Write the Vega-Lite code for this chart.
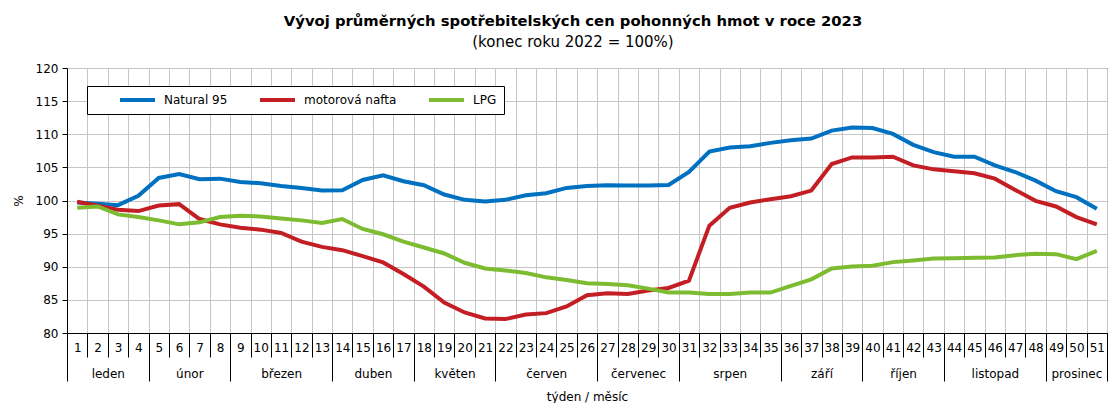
{
  "$schema": "https://vega.github.io/schema/vega-lite/v6.json",
  "autosize": "none",
  "width": 1040,
  "height": 265,
  "padding": {"left": 67, "top": 68, "right": 7, "bottom": 70},
  "background": "white",
  "title": {
    "text": "Vývoj průměrných spotřebitelských cen pohonných hmot v roce 2023",
    "subtitle": "(konec roku 2022 = 100%)",
    "anchor": "middle",
    "frame": "group",
    "font": "DejaVu Sans",
    "fontSize": 14.8,
    "fontWeight": "bold",
    "color": "black",
    "subtitleFont": "DejaVu Sans",
    "subtitleFontSize": 15,
    "subtitleColor": "black",
    "subtitlePadding": 6,
    "offset": 12,
    "dx": -14
  },
  "config": {
    "view": {"stroke": "black", "strokeWidth": 1},
    "axis": {"labelFont": "DejaVu Sans", "titleFont": "DejaVu Sans", "labelColor": "black", "titleColor": "black", "titleFontWeight": "normal", "labelFlush": false, "labelOverlap": false, "labelBound": false}
  },
  "data": {
    "values": [
      {"w": 1, "Natural 95": 99.7, "motorová nafta": 99.8, "LPG": 98.9},
      {"w": 2, "Natural 95": 99.5, "motorová nafta": 99.2, "LPG": 99.1},
      {"w": 3, "Natural 95": 99.3, "motorová nafta": 98.6, "LPG": 97.9},
      {"w": 4, "Natural 95": 100.7, "motorová nafta": 98.4, "LPG": 97.5},
      {"w": 5, "Natural 95": 103.4, "motorová nafta": 99.25, "LPG": 97.0},
      {"w": 6, "Natural 95": 104.0, "motorová nafta": 99.45, "LPG": 96.4},
      {"w": 7, "Natural 95": 103.2, "motorová nafta": 97.2, "LPG": 96.7},
      {"w": 8, "Natural 95": 103.3, "motorová nafta": 96.4, "LPG": 97.5},
      {"w": 9, "Natural 95": 102.8, "motorová nafta": 95.9, "LPG": 97.7},
      {"w": 10, "Natural 95": 102.6, "motorová nafta": 95.6, "LPG": 97.6},
      {"w": 11, "Natural 95": 102.2, "motorová nafta": 95.1, "LPG": 97.3},
      {"w": 12, "Natural 95": 101.9, "motorová nafta": 93.8, "LPG": 97.0},
      {"w": 13, "Natural 95": 101.5, "motorová nafta": 93.0, "LPG": 96.6},
      {"w": 14, "Natural 95": 101.55, "motorová nafta": 92.5, "LPG": 97.2},
      {"w": 15, "Natural 95": 103.1, "motorová nafta": 91.6, "LPG": 95.7},
      {"w": 16, "Natural 95": 103.8, "motorová nafta": 90.65, "LPG": 94.9},
      {"w": 17, "Natural 95": 102.9, "motorová nafta": 88.9, "LPG": 93.8},
      {"w": 18, "Natural 95": 102.3, "motorová nafta": 87.0, "LPG": 92.9},
      {"w": 19, "Natural 95": 100.9, "motorová nafta": 84.6, "LPG": 92.0},
      {"w": 20, "Natural 95": 100.1, "motorová nafta": 83.1, "LPG": 90.6},
      {"w": 21, "Natural 95": 99.85, "motorová nafta": 82.2, "LPG": 89.75},
      {"w": 22, "Natural 95": 100.1, "motorová nafta": 82.1, "LPG": 89.45},
      {"w": 23, "Natural 95": 100.8, "motorová nafta": 82.8, "LPG": 89.05},
      {"w": 24, "Natural 95": 101.1, "motorová nafta": 83.0, "LPG": 88.4},
      {"w": 25, "Natural 95": 101.9, "motorová nafta": 84.0, "LPG": 88.0},
      {"w": 26, "Natural 95": 102.2, "motorová nafta": 85.7, "LPG": 87.5},
      {"w": 27, "Natural 95": 102.3, "motorová nafta": 86.0, "LPG": 87.4},
      {"w": 28, "Natural 95": 102.25, "motorová nafta": 85.9, "LPG": 87.2},
      {"w": 29, "Natural 95": 102.25, "motorová nafta": 86.4, "LPG": 86.7},
      {"w": 30, "Natural 95": 102.35, "motorová nafta": 86.8, "LPG": 86.1},
      {"w": 31, "Natural 95": 104.3, "motorová nafta": 87.9, "LPG": 86.1},
      {"w": 32, "Natural 95": 107.4, "motorová nafta": 96.2, "LPG": 85.9},
      {"w": 33, "Natural 95": 108.0, "motorová nafta": 98.9, "LPG": 85.9},
      {"w": 34, "Natural 95": 108.2, "motorová nafta": 99.7, "LPG": 86.1},
      {"w": 35, "Natural 95": 108.7, "motorová nafta": 100.2, "LPG": 86.1},
      {"w": 36, "Natural 95": 109.1, "motorová nafta": 100.65, "LPG": 87.1},
      {"w": 37, "Natural 95": 109.35, "motorová nafta": 101.5, "LPG": 88.1},
      {"w": 38, "Natural 95": 110.55, "motorová nafta": 105.5, "LPG": 89.75},
      {"w": 39, "Natural 95": 111.0, "motorová nafta": 106.5, "LPG": 90.05},
      {"w": 40, "Natural 95": 110.95, "motorová nafta": 106.5, "LPG": 90.15},
      {"w": 41, "Natural 95": 110.05, "motorová nafta": 106.6, "LPG": 90.7},
      {"w": 42, "Natural 95": 108.4, "motorová nafta": 105.3, "LPG": 90.95},
      {"w": 43, "Natural 95": 107.3, "motorová nafta": 104.7, "LPG": 91.25},
      {"w": 44, "Natural 95": 106.6, "motorová nafta": 104.4, "LPG": 91.3},
      {"w": 45, "Natural 95": 106.6, "motorová nafta": 104.1, "LPG": 91.35},
      {"w": 46, "Natural 95": 105.3, "motorová nafta": 103.3, "LPG": 91.4},
      {"w": 47, "Natural 95": 104.3, "motorová nafta": 101.6, "LPG": 91.75},
      {"w": 48, "Natural 95": 103.0, "motorová nafta": 99.95, "LPG": 91.95},
      {"w": 49, "Natural 95": 101.4, "motorová nafta": 99.1, "LPG": 91.9},
      {"w": 50, "Natural 95": 100.5, "motorová nafta": 97.5, "LPG": 91.15},
      {"w": 51, "Natural 95": 98.75, "motorová nafta": 96.4, "LPG": 92.4}
    ]
  },
  "resolve": {"axis": {"x": "independent"}},
  "layer": [
    {
      "mark": {"type": "tick", "opacity": 0},
      "encoding": {
        "x": {"field": "w", "type": "quantitative",
          "scale": {"domain": [0.5, 51.5], "nice": false, "zero": false},
          "axis": {"orient": "bottom", "values": [0.5,1.5,2.5,3.5,4.5,5.5,6.5,7.5,8.5,9.5,10.5,11.5,12.5,13.5,14.5,15.5,16.5,17.5,18.5,19.5,20.5,21.5,22.5,23.5,24.5,25.5,26.5,27.5,28.5,29.5,30.5,31.5,32.5,33.5,34.5,35.5,36.5,37.5,38.5,39.5,40.5,41.5,42.5,43.5,44.5,45.5,46.5,47.5,48.5,49.5,50.5,51.5],
            "grid": true, "gridColor": "#c6c6c6", "gridWidth": 1, "gridOpacity": 1,
            "ticks": true, "tickSize": 24, "tickColor": "black", "tickWidth": 1,
            "labels": false, "domain": false, "title": null}
        }
      }
    },
    {
      "mark": {"type": "tick", "opacity": 0},
      "encoding": {
        "x": {"field": "w", "type": "quantitative",
          "axis": {"orient": "bottom", "values": [0.5, 4.5, 8.5, 13.5, 17.5, 21.5, 26.5, 30.5, 35.5, 39.5, 43.5, 48.5, 51.5],
            "grid": false, "ticks": true, "tickSize": 48, "tickColor": "black", "tickWidth": 1,
            "labels": false, "domain": false, "title": null}
        }
      }
    },
    {
      "mark": {"type": "tick", "opacity": 0},
      "encoding": {
        "x": {"field": "w", "type": "quantitative",
          "axis": {"orient": "bottom", "values": [2.5, 6.5, 11, 15.5, 19.5, 24, 28.5, 33, 37.5, 41.5, 46, 50],
            "labelExpr": "['leden','únor','březen','duben','květen','červen','červenec','srpen','září','říjen','listopad','prosinec'][indexof([2.5, 6.5, 11, 15.5, 19.5, 24, 28.5, 33, 37.5, 41.5, 46, 50], datum.value)]",
            "grid": false, "ticks": false, "tickSize": 0, "domain": false,
            "labelFontSize": 12, "labelPadding": 40, "labelBaseline": "middle",
            "title": "týden / měsíc", "titleFontSize": 12, "titlePadding": 12}
        }
      }
    },
    {
      "transform": [{"fold": ["Natural 95", "motorová nafta", "LPG"], "as": ["serie", "hodnota"]}],
      "mark": {"type": "line", "strokeWidth": 4, "interpolate": "linear"},
      "encoding": {
        "x": {"field": "w", "type": "quantitative",
          "axis": {"orient": "bottom", "values": [1,2,3,4,5,6,7,8,9,10,11,12,13,14,15,16,17,18,19,20,21,22,23,24,25,26,27,28,29,30,31,32,33,34,35,36,37,38,39,40,41,42,43,44,45,46,47,48,49,50,51],
            "grid": false, "ticks": false, "tickSize": 0, "domain": true, "domainColor": "black", "domainWidth": 1,
            "labelFontSize": 12, "labelPadding": 14, "labelBaseline": "middle", "format": "d", "title": null}
        },
        "y": {"field": "hodnota", "type": "quantitative",
          "scale": {"domain": [80, 120], "nice": false, "zero": false},
          "axis": {"values": [80, 85, 90, 95, 100, 105, 110, 115, 120],
            "grid": true, "gridColor": "#c6c6c6", "gridWidth": 1,
            "tickSize": 5, "tickColor": "black", "domainColor": "black",
            "labelFontSize": 12, "labelPadding": 4,
            "title": "%", "titleFontSize": 12, "titlePadding": 10}
        },
        "color": {"field": "serie", "type": "nominal",
          "scale": {"domain": ["Natural 95", "motorová nafta", "LPG"], "range": ["#0070c0", "#c41e25", "#7dbb30"]},
          "legend": {"orient": "none", "legendX": 20, "legendY": 18, "direction": "horizontal",
            "title": " ", "titleOrient": "left", "titlePadding": 24, "titleFontSize": 12,
            "strokeColor": "black", "fillColor": "white", "padding": 7,
            "symbolType": "stroke", "symbolSize": 1225, "symbolStrokeWidth": 4, "clipHeight": 14,
            "labelFont": "DejaVu Sans", "labelFontSize": 12, "labelColor": "black", "labelOffset": 7,
            "columnPadding": 30}
        }
      }
    }
  ]
}
